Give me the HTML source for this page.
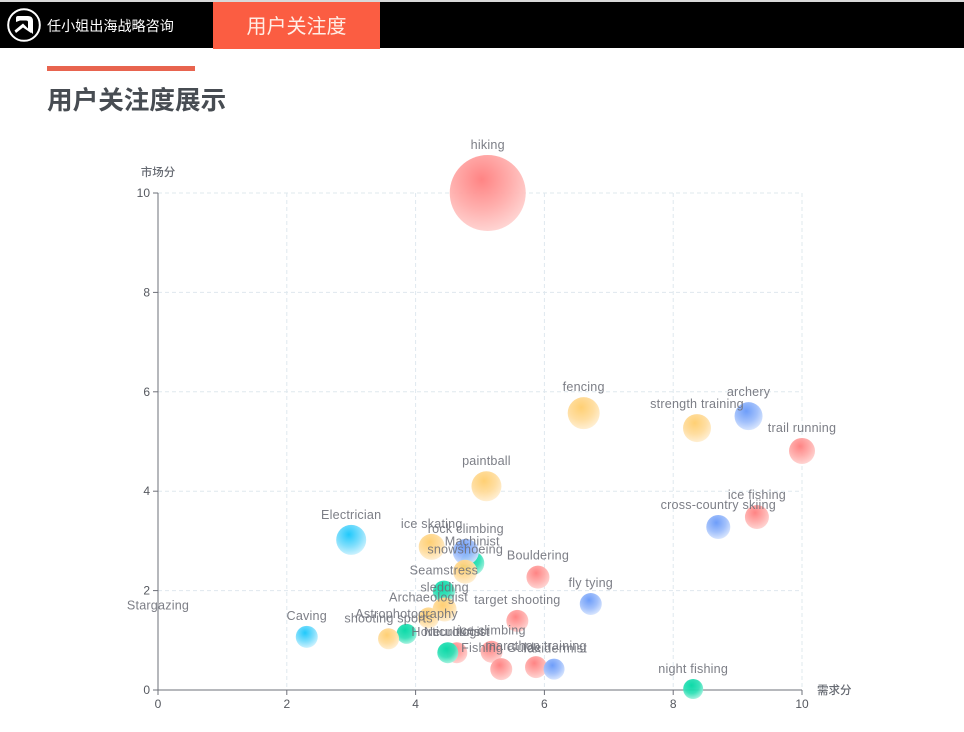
<!DOCTYPE html>
<html lang="zh">
<head>
<meta charset="utf-8">
<title>用户关注度展示</title>
<style>
html,body{margin:0;padding:0;background:#fff;}
body{width:964px;height:732px;position:relative;overflow:hidden;font-family:"Liberation Sans","Noto Sans CJK SC",sans-serif;}
#top-strip{position:absolute;left:0;top:0;width:964px;height:2px;background:#d9d9d9;}
#top-bar{position:absolute;left:0;top:2px;width:964px;height:46px;background:#000;}
#brand{position:absolute;left:47px;top:16px;font-size:14.1px;line-height:20px;color:#fff;white-space:nowrap;}
#tab{position:absolute;left:213px;top:2px;width:167px;height:47px;background:#fb5d42;color:#ffeee6;font-size:20px;line-height:50px;text-align:center;}
#rule{position:absolute;left:47px;top:66px;width:148px;height:5px;background:#e8644f;}
#title{position:absolute;left:47px;top:84px;font-size:25.6px;line-height:34px;font-weight:700;color:#474c52;white-space:nowrap;}
#logo{position:absolute;left:6px;top:7px;}
#chart{position:absolute;left:0;top:0;filter:blur(0.35px);}
</style>
</head>
<body>
<div id="top-strip"></div>
<div id="top-bar"></div>
<svg id="logo" width="36" height="36" viewBox="0 0 36 36">
  <circle cx="18" cy="18" r="15.8" fill="none" stroke="#fff" stroke-width="2"/>
  <path d="M10 15 L10 11 Q10 9 12 9 L22 9 Q27 9 27 14 L27 27 L22 23 L22 15 Q22 13.5 20 13.5 L14 13.5 Z" fill="#fff"/>
  <path d="M8.5 23.5 L17 16.5 L25 24.5 L25 26 L17 20.5 L10 26 Z" fill="#fff"/>
</svg>
<div id="brand">任小姐出海战略咨询</div>
<div id="tab">用户关注度</div>
<div id="rule"></div>
<div id="title">用户关注度展示</div>

<svg id="chart" width="964" height="732" viewBox="0 0 964 732" xmlns="http://www.w3.org/2000/svg">
  <defs>
    <radialGradient id="grad-red" cx="0.42" cy="0.32" r="0.72"><stop offset="0" stop-color="#ff7d7d"/><stop offset="0.55" stop-color="#ffacaa"/><stop offset="1" stop-color="#ffd6d4"/></radialGradient>
    <radialGradient id="grad-yellow" cx="0.42" cy="0.32" r="0.72"><stop offset="0" stop-color="#ffcd6c"/><stop offset="0.55" stop-color="#ffdc9c"/><stop offset="1" stop-color="#fff0d6"/></radialGradient>
    <radialGradient id="grad-blue" cx="0.42" cy="0.32" r="0.72"><stop offset="0" stop-color="#6698f9"/><stop offset="0.55" stop-color="#9dbdfb"/><stop offset="1" stop-color="#dce8fe"/></radialGradient>
    <radialGradient id="grad-cyan" cx="0.42" cy="0.32" r="0.72"><stop offset="0" stop-color="#14c6fb"/><stop offset="0.55" stop-color="#77dcfc"/><stop offset="1" stop-color="#d2f3fe"/></radialGradient>
    <radialGradient id="grad-teal" cx="0.42" cy="0.32" r="0.72"><stop offset="0" stop-color="#00d8a4"/><stop offset="0.55" stop-color="#30e0b6"/><stop offset="1" stop-color="#b0f3e2"/></radialGradient>
  </defs>
  <g id="grid-layer"></g>
  <g id="axis-layer"></g>
  <g id="bubble-layer"></g>
  <g id="label-layer"></g>
</svg>

<script>
const names = ["hiking","fencing","strength training","archery","trail running","ice fishing","cross-country skiing","paintball","Electrician","ice skating","Machinist","rock climbing","snowshoeing","Bouldering","Seamstress","sledding","Archaeologist","Astrophotography","shooting sports","Stargazing","Caving","target shooting","fly tying","Neurologist","Horticulturist","ice climbing","Fishing Guide","marathon training","Taxidermist","night fishing"];
const demandScores = [5.12,6.61,8.37,9.17,10,9.3,8.7,5.1,3.0,4.25,4.88,4.78,4.77,5.9,4.44,4.45,4.2,3.86,3.58,0,2.31,5.58,6.72,4.64,4.5,5.18,5.33,5.87,6.15,8.31];
const marketScores = [10,5.57,5.27,5.51,4.81,3.48,3.28,4.1,3.02,2.88,2.55,2.78,2.38,2.27,1.98,1.62,1.45,1.13,1.03,1.5,1.07,1.39,1.73,0.75,0.75,0.77,0.42,0.46,0.42,0.02];
const bubbleSizes = [76,32,28,28,26,24,24,30,30,26,24,26,24,23,22,24,21,20,21,0,22,22,22,21,21,22,22,22,21,20];
const groups = ["red","yellow","yellow","blue","red","red","blue","yellow","cyan","yellow","teal","blue","yellow","red","teal","yellow","yellow","teal","yellow","cyan","cyan","red","blue","red","teal","red","red","red","blue","teal"];
const xTicks = [0,2,4,6,8,10];
const yTicks = [0,2,4,6,8,10];
const xAxisTitle = "需求分";
const yAxisTitle = "市场分";

const SVGNS = "http://www.w3.org/2000/svg";
const plot = {left:158, right:802, top:193, bottom:690, xMax:10, yMax:10};
function xScale(v){ return plot.left + (v / plot.xMax) * (plot.right - plot.left); }
function yScale(v){ return plot.bottom - (v / plot.yMax) * (plot.bottom - plot.top); }
function radius(size){ return size / 2; }
function make(tag, attrs, parent){
  const el = document.createElementNS(SVGNS, tag);
  for (const k in attrs) el.setAttribute(k, attrs[k]);
  parent.appendChild(el);
  return el;
}
const gridLayer = document.getElementById("grid-layer");
const axisLayer = document.getElementById("axis-layer");
const bubbleLayer = document.getElementById("bubble-layer");
const labelLayer = document.getElementById("label-layer");
const gridStyle = {stroke:"#dfe8ee", "stroke-width":1, "stroke-dasharray":"4 3"};

xTicks.forEach(function(t){
  const x = xScale(t);
  if (t > 0) {
    const g = make("line", Object.assign({x1:x, x2:x, y1:plot.top, y2:plot.bottom}, gridStyle), gridLayer);
    
    
  }
  const tick = make("line", {x1:x, x2:x, y1:plot.bottom, y2:plot.bottom+5, stroke:"#6e7079", "stroke-width":1}, axisLayer);
  
  
  const lab = make("text", {x:x, y:plot.bottom+18, "text-anchor":"middle", "font-size":12, fill:"#55585f"}, axisLayer);
  lab.textContent = t;
  
  
});
yTicks.forEach(function(t){
  const y = yScale(t);
  if (t > 0) {
    const g = make("line", Object.assign({x1:plot.left, x2:plot.right, y1:y, y2:y}, gridStyle), gridLayer);
    
    
  }
  const tick = make("line", {x1:plot.left-5, x2:plot.left, y1:y, y2:y, stroke:"#6e7079", "stroke-width":1}, axisLayer);
  
  
  const lab = make("text", {x:plot.left-8, y:y+4, "text-anchor":"end", "font-size":12, fill:"#55585f"}, axisLayer);
  lab.textContent = t;
  
  
});
const xLine = make("line", {x1:plot.left, x2:plot.right, y1:plot.bottom, y2:plot.bottom, stroke:"#6e7079", "stroke-width":1}, axisLayer);


const yLine = make("line", {x1:plot.left, x2:plot.left, y1:plot.top, y2:plot.bottom, stroke:"#6e7079", "stroke-width":1}, axisLayer);


const xTitle = make("text", {x:plot.right+15, y:plot.bottom+4, "font-size":11.5, fill:"#666a72", "font-weight":500}, axisLayer);
xTitle.textContent = xAxisTitle;


const yTitle = make("text", {x:plot.left, y:plot.top-17, "text-anchor":"middle", "font-size":11.5, fill:"#666a72", "font-weight":500}, axisLayer);
yTitle.textContent = yAxisTitle;



names.forEach(function(name, i){
  const cx = xScale(demandScores[i]);
  const cy = yScale(marketScores[i]);
  const r = radius(bubbleSizes[i]);
  const c = make("circle", {cx:cx, cy:cy, r:r, fill:"url(#grad-" + groups[i] + ")", "fill-opacity":0.95}, bubbleLayer);
  
  
  const t = make("text", {x:cx, y:cy - r - 6, "text-anchor":"middle", "font-size":12.6, "letter-spacing":0.2, fill:"#6e7079", "fill-opacity":0.9}, labelLayer);
  t.textContent = name;
  
  
});
</script>
</body>
</html>
